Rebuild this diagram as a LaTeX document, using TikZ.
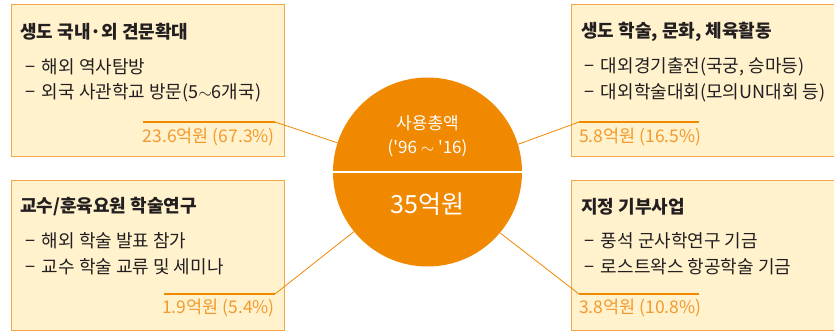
\documentclass[tikz,border=0pt]{standalone}
\usepackage{fontspec}
\setmainfont{Noto Sans CJK KR}[Ligatures=TeXOff]
\definecolor{boxfill}{HTML}{FFF2CD}
\definecolor{boxline}{HTML}{F7A647}
\definecolor{circfill}{HTML}{F08800}
\definecolor{amt}{HTML}{F39A2E}
\definecolor{ink}{HTML}{231F20}
\tikzset{
  infobox/.style={draw=boxline, fill=boxfill, line width=1pt},
  ttl/.style={anchor=west, inner sep=0pt, font=\fontsize{18}{21}\selectfont\bfseries, text=ink},
  itm/.style={anchor=west, inner sep=0pt, font=\fontsize{18}{21}\selectfont, text=ink},
  amount/.style={inner sep=0pt, font=\fontsize{17.5}{20}\selectfont, text=amt},
  uline/.style={draw=circfill, line width=1.6pt},
  conn/.style={draw=circfill, line width=0.8pt},
}
\begin{document}
\begin{tikzpicture}[x=1pt,y=-1pt]
\useasboundingbox (0,0) rectangle (834,331);
% boxes
\path[infobox] (11,5) rectangle (284,157);
\path[infobox] (571,5) rectangle (840,157);
\path[infobox] (11,180) rectangle (284,330);
\path[infobox] (571,180) rectangle (840,330);
% circle
\node[circle, fill=circfill, minimum size=189pt, inner sep=0pt] (circ) at (427.5,172) {};
\draw[white, line width=2pt] (circ.west) -- (circ.east);
\node[inner sep=0pt, text=white, font=\fontsize{17}{20}\selectfont] (c1) at (427.5,123) {사용총액};
\node[inner sep=0pt, text=white, font=\fontsize{17}{20}\selectfont] (c2) at (427.5,148) {('96 $\sim$ '16)};
\node[inner sep=0pt, text=white, font=\fontsize{25}{28}\selectfont] (c3) at (427.5,204) {35억원};
% top-left
\node[ttl] (t1) at (20,32) {생도 국내·외 견문확대};
\node[itm] (t1a) at (25,67) {−\hspace{0.15em} 해외 역사탐방};
\node[itm] (t1b) at (25,93) {−\hspace{0.15em} 외국 사관학교 방문(5$\sim$6개국)};
\node[amount, anchor=east] (a1) at (275,137) {23.6억원 (67.3\%)};
\coordinate (u1s) at (143,122);
\coordinate (u1e) at (275,122);
\path[uline] (u1s) -- (u1e);
\path[conn] (u1e) -- (circ.162);
% top-right
\node[ttl] (t2) at (581,32) {생도 학술, 문화, 체육활동};
\node[itm] (t2a) at (584,67) {−\hspace{0.15em} 대외경기출전(국궁, 승마등)};
\node[itm] (t2b) at (584,93) {−\hspace{0.15em} 대외학술대회(모의UN대회 등)};
\node[amount, anchor=west] (a2) at (579,137) {5.8억원 (16.5\%)};
\coordinate (u2s) at (579,122);
\coordinate (u2e) at (699,122);
\path[uline] (u2s) -- (u2e);
\path[conn] (u2s) -- (circ.17);
% bottom-left
\node[ttl] (t3) at (20,207) {교수/훈육요원 학술연구};
\node[itm] (t3a) at (25,241) {−\hspace{0.15em} 해외 학술 발표 참가};
\node[itm] (t3b) at (25,267) {−\hspace{0.15em} 교수 학술 교류 및 세미나};
\node[amount, anchor=east] (a3) at (275,308) {1.9억원 (5.4\%)};
\coordinate (u3s) at (164,294);
\coordinate (u3e) at (275,294);
\path[uline] (u3s) -- (u3e);
\path[conn] (u3e) -- (circ.219);
% bottom-right
\node[ttl] (t4) at (581,207) {지정 기부사업};
\node[itm] (t4a) at (584,241) {−\hspace{0.15em} 풍석 군사학연구 기금};
\node[itm] (t4b) at (584,267) {−\hspace{0.15em} 로스트왁스 항공학술 기금};
\node[amount, anchor=west] (a4) at (579,308) {3.8억원 (10.8\%)};
\coordinate (u4s) at (579,294);
\coordinate (u4e) at (699,294);
\path[uline] (u4s) -- (u4e);
\path[conn] (u4s) -- (circ.320);
\end{tikzpicture}
\end{document}
